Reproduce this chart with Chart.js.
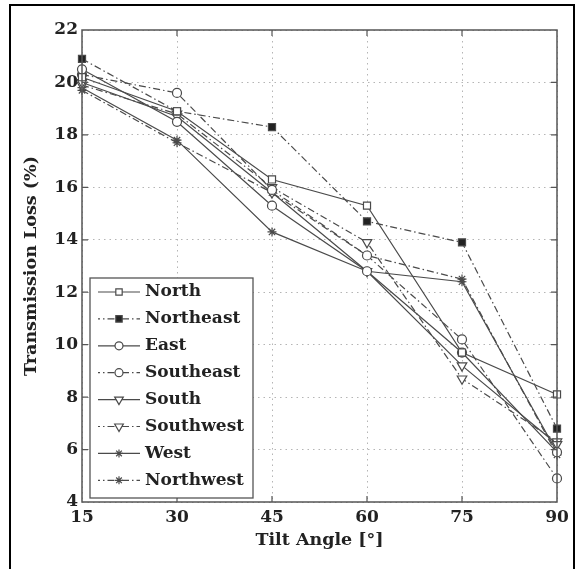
<!DOCTYPE html>
<html><head><meta charset="utf-8">
<script src="https://cdn.jsdelivr.net/npm/chart.js@4.4.0/dist/chart.umd.min.js"></script>
<style>
html,body{margin:0;padding:0;background:#fff;}
#wrap{position:relative;width:576px;height:569px;overflow:hidden;}
#frame{position:absolute;left:9px;top:4px;width:566px;height:580px;border:2px solid #000;box-sizing:border-box;pointer-events:none;}
canvas{position:absolute;left:0;top:0;}
</style></head><body>
<div id="wrap"><canvas id="c" width="576" height="569"></canvas><div id="frame"></div></div>
<script>
// ---- data ----
const tiltAngles = [15, 30, 45, 60, 75, 90];
const yTickValues = [4, 6, 8, 10, 12, 14, 16, 18, 20, 22];
const seriesNames = ['North', 'Northeast', 'East', 'Southeast', 'South', 'Southwest', 'West', 'Northwest'];
const north     = [20.2, 18.9, 16.3, 15.3, 9.7, 8.1];
const northeast = [20.9, 18.9, 18.3, 14.7, 13.9, 6.8];
const east      = [20.5, 18.5, 15.3, 12.8, 9.7, 5.9];
const southeast = [20.3, 19.6, 15.9, 13.4, 10.2, 4.9];
const south     = [20.0, 18.7, 15.8, 12.8, 9.2, 6.2];
const southwest = [19.9, 18.8, 16.0, 13.9, 8.7, 6.3];
const west      = [19.8, 17.8, 14.3, 12.8, 12.4, 5.9];
const northwest = [19.7, 17.7, 15.8, 13.4, 12.5, 5.8];
const seriesValues = [north, northeast, east, southeast, south, southwest, west, northwest];

// ---- styles ----
const LINE = '#4a4a4a';
const DASHDOT = [7, 3, 1.5, 3];
const markerStyle = [
  {ps: 'rect', rot: 0, r: 5, fill: '#fff', dash: []},
  {ps: 'rect', rot: 0, r: 5, fill: '#222', dash: DASHDOT},
  {ps: 'circle', rot: 0, r: 4.5, fill: '#fff', dash: []},
  {ps: 'circle', rot: 0, r: 4.5, fill: '#fff', dash: DASHDOT},
  {ps: 'triangle', rot: 180, r: 5.5, fill: '#fff', dash: []},
  {ps: 'triangle', rot: 180, r: 5.5, fill: '#fff', dash: DASHDOT},
  {ps: 'star', rot: 0, r: 4.5, fill: '#fff', dash: []},
  {ps: 'star', rot: 0, r: 4.5, fill: '#fff', dash: DASHDOT}
];

const datasets = seriesNames.map((name, i) => ({
  label: name,
  data: tiltAngles.map((a, j) => ({x: a, y: seriesValues[i][j]})),
  borderColor: LINE,
  borderWidth: 1.2,
  borderDash: markerStyle[i].dash,
  backgroundColor: markerStyle[i].fill,
  pointStyle: markerStyle[i].ps,
  pointRotation: markerStyle[i].rot,
  pointRadius: markerStyle[i].r,
  pointBorderWidth: 1.2,
  pointBorderColor: LINE,
  pointBackgroundColor: markerStyle[i].fill,
  tension: 0,
  fill: false,
  clip: false
}));

const FONT = 'DejaVu Serif';
Chart.defaults.font.family = FONT;
Chart.defaults.font.weight = 'bold';
Chart.defaults.color = '#222';

const framePlugin = {
  id: 'frameTicks',
  afterDatasetsDraw(chart) {
    const {ctx, chartArea: a, scales: {x, y}} = chart;
    ctx.save();
    ctx.strokeStyle = '#555';
    ctx.lineWidth = 1.5;
    ctx.setLineDash([]);
    ctx.strokeRect(a.left, a.top, a.right - a.left, a.bottom - a.top);
    ctx.lineWidth = 1.2;
    ctx.beginPath();
    tiltAngles.slice(1, -1).forEach(v => {
      const px = x.getPixelForValue(v);
      ctx.moveTo(px, a.bottom); ctx.lineTo(px, a.bottom - 6);
      ctx.moveTo(px, a.top); ctx.lineTo(px, a.top + 6);
    });
    yTickValues.slice(1, -1).forEach(v => {
      const py = y.getPixelForValue(v);
      ctx.moveTo(a.left, py); ctx.lineTo(a.left + 6, py);
      ctx.moveTo(a.right, py); ctx.lineTo(a.right - 6, py);
    });
    ctx.stroke();
    ctx.restore();
  },
  afterDraw(chart) {
    const {ctx} = chart;
    const bx = 90, by = 278, bw = 163, bh = 220;
    ctx.save();
    ctx.fillStyle = '#fff';
    ctx.fillRect(bx, by, bw, bh);
    ctx.strokeStyle = '#555';
    ctx.lineWidth = 1.3;
    ctx.strokeRect(bx, by, bw, bh);
    chart.data.datasets.forEach((ds, i) => {
      const yy = 292 + i * 26.9;
      ctx.strokeStyle = LINE;
      ctx.lineWidth = 1.2;
      ctx.setLineDash(ds.borderDash || []);
      ctx.lineDashOffset = ds.borderDash && ds.borderDash.length ? 5 : 0;
      ctx.beginPath();
      ctx.moveTo(98, yy); ctx.lineTo(140, yy);
      ctx.stroke();
      ctx.setLineDash([]);
      ctx.fillStyle = ds.pointBackgroundColor;
      ctx.strokeStyle = LINE;
      Chart.helpers.drawPoint(ctx, {pointStyle: ds.pointStyle, rotation: ds.pointRotation, radius: ds.pointRadius - 0.5, borderWidth: 1.2}, 119, yy);
      ctx.fillStyle = '#222';
      ctx.font = 'bold 17px "' + FONT + '"';
      ctx.textBaseline = 'middle';
      ctx.textAlign = 'left';
      ctx.fillText(ds.label, 145, yy);
    });
    ctx.restore();
  }
};

new Chart(document.getElementById('c'), {
  type: 'line',
  data: {datasets},
  options: {
    responsive: false,
    animation: false,
    devicePixelRatio: 1,
    layout: {padding: {top: 30, right: 19, left: 0, bottom: 0}},
    plugins: {legend: {display: false}, tooltip: {enabled: false}},
    scales: {
      x: {
        type: 'linear', min: 15, max: 90,
        afterBuildTicks: s => { s.ticks = tiltAngles.map(v => ({value: v})); },
        afterFit: s => { s.height = 67; },
        ticks: {font: {size: 17, weight: 'bold'}, padding: 5, color: '#222', maxRotation: 0},
        grid: {color: '#b5b5b5', lineWidth: 1, drawTicks: false},
        border: {display: false, dash: [1.5, 4]},
        title: {display: true, text: 'Tilt Angle [°]', font: {size: 17.5, weight: 'bold'}, color: '#222', padding: {bottom: 18, top: 0}}
      },
      y: {
        type: 'linear', min: 4, max: 22,
        afterBuildTicks: s => { s.ticks = yTickValues.map(v => ({value: v})); },
        afterFit: s => { s.width = 82; },
        ticks: {font: {size: 17, weight: 'bold'}, padding: 4, color: '#222'},
        grid: {color: '#b5b5b5', lineWidth: 1, drawTicks: false},
        border: {display: false, dash: [1.5, 4]},
        title: {display: true, text: 'Transmission Loss (%)', font: {size: 17.5, weight: 'bold'}, color: '#222', padding: {top: 21, bottom: 0}}
      }
    }
  },
  plugins: [framePlugin]
});
</script>
</body></html>
